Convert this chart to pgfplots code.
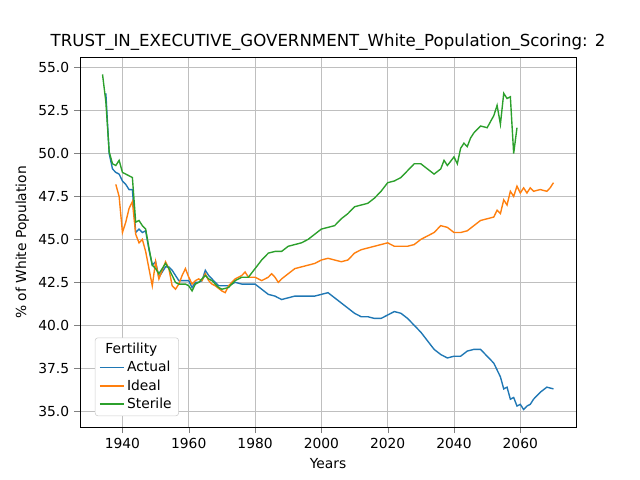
\documentclass[border=0pt]{standalone}
\usepackage{pgfplots}
\pgfplotsset{compat=1.18}
\usepackage{fontspec}
\setmainfont{DejaVu Sans}
\definecolor{c1}{HTML}{1F77B4}\definecolor{c2}{HTML}{FF7F0E}\definecolor{c3}{HTML}{2CA02C}
\begin{document}
\begin{tikzpicture}
\begin{axis}[scale only axis, width=4.96in, height=3.696in,
xmin=1927.2, xmax=2076.8, ymin=34.07, ymax=55.58,
xtick={1940,1960,...,2060}, ytick={35,37.5,...,55},
/pgf/number format/assume math mode=true,
yticklabel style={/pgf/number format/.cd,fixed,fixed zerofill,precision=1},
xticklabel style={/pgf/number format/.cd,1000 sep={}},
tick label style={font=\fontsize{10}{12}\selectfont},
label style={font=\fontsize{10}{12}\selectfont},
grid=major, grid style={gray!50},
tick align=outside, tick pos=left,
xlabel={Years}, ylabel={\% of White Population},
title={TRUST\_IN\_EXECUTIVE\_GOVERNMENT\_White\_Population\_Scoring: 2},
title style={font=\fontsize{12}{14}\selectfont, yshift=-4pt},
legend pos=south west, legend cell align=left,
legend style={font=\fontsize{10}{12}\selectfont, draw=gray!40, rounded corners=2pt},
every axis plot/.append style={line width=1pt}]
\addplot[c1, forget plot] coordinates {(1935,53.5)(1936,50.0)(1937,49.1)(1938,48.9)(1939,48.8)(1940,48.4)(1941,48.2)(1942,47.9)(1943,47.9)(1944,45.4)(1945,45.6)(1946,45.4)(1947,45.5)(1948,44.4)(1949,43.5)(1950,43.7)(1951,42.8)(1952,43.1)(1953,43.4)(1954,43.4)(1955,43.2)(1956,42.9)(1957,42.6)(1958,42.6)(1959,42.6)(1960,42.6)(1961,42.2)(1962,42.5)(1963,42.5)(1964,42.6)(1965,43.2)(1966,42.9)(1967,42.7)(1968,42.5)(1969,42.3)(1970,42.3)(1972,42.3)(1974,42.5)(1976,42.4)(1978,42.4)(1980,42.4)(1982,42.1)(1984,41.8)(1986,41.7)(1988,41.5)(1990,41.6)(1992,41.7)(1994,41.7)(1996,41.7)(1998,41.7)(2000,41.8)(2002,41.9)(2004,41.6)(2006,41.3)(2008,41.0)(2010,40.7)(2012,40.5)(2014,40.5)(2016,40.4)(2018,40.4)(2020,40.6)(2022,40.8)(2024,40.7)(2026,40.4)(2028,40.0)(2030,39.6)(2032,39.1)(2034,38.6)(2036,38.3)(2038,38.1)(2040,38.2)(2042,38.2)(2044,38.5)(2046,38.6)(2048,38.6)(2050,38.2)(2052,37.8)(2054,37.0)(2055,36.3)(2056,36.4)(2057,35.7)(2058,35.8)(2059,35.3)(2060,35.4)(2061,35.1)(2062,35.3)(2063,35.4)(2064,35.7)(2066,36.1)(2068,36.4)(2070,36.3)};
\addplot[c2, forget plot] coordinates {(1938,48.2)(1939,47.5)(1940,45.4)(1941,46.0)(1942,46.8)(1943,47.2)(1944,45.3)(1945,44.8)(1946,45.0)(1947,44.3)(1948,43.3)(1949,42.3)(1950,43.7)(1951,42.7)(1952,43.2)(1953,43.7)(1954,43.3)(1955,42.3)(1956,42.1)(1957,42.4)(1958,42.9)(1959,43.3)(1960,42.8)(1961,42.4)(1962,42.6)(1963,42.7)(1964,42.6)(1965,43.0)(1966,42.6)(1967,42.4)(1968,42.3)(1970,42.0)(1971,41.9)(1972,42.3)(1974,42.7)(1976,42.9)(1977,43.1)(1978,42.8)(1980,42.8)(1982,42.6)(1984,42.8)(1985,43.0)(1986,42.8)(1987,42.5)(1988,42.7)(1990,43.0)(1992,43.3)(1994,43.4)(1996,43.5)(1998,43.6)(2000,43.8)(2002,43.9)(2004,43.8)(2006,43.7)(2008,43.8)(2010,44.2)(2012,44.4)(2014,44.5)(2016,44.6)(2018,44.7)(2020,44.8)(2022,44.6)(2024,44.6)(2026,44.6)(2028,44.7)(2030,45.0)(2032,45.2)(2034,45.4)(2036,45.8)(2038,45.7)(2040,45.4)(2042,45.4)(2044,45.5)(2046,45.8)(2048,46.1)(2050,46.2)(2052,46.3)(2053,46.7)(2054,46.5)(2055,47.3)(2056,47.0)(2057,47.8)(2058,47.5)(2059,48.1)(2060,47.7)(2061,48.0)(2062,47.7)(2063,48.0)(2064,47.8)(2066,47.9)(2068,47.8)(2069,48.0)(2070,48.3)};
\addplot[c3, forget plot] coordinates {(1934,54.6)(1935,53.0)(1936,50.1)(1937,49.4)(1938,49.3)(1939,49.6)(1940,48.9)(1941,48.8)(1942,48.7)(1943,48.6)(1944,46.0)(1945,46.1)(1946,45.8)(1947,45.6)(1948,44.5)(1949,43.5)(1950,43.3)(1951,43.0)(1952,43.3)(1953,43.6)(1954,43.3)(1955,42.9)(1956,42.5)(1957,42.4)(1958,42.4)(1959,42.4)(1960,42.3)(1961,42.0)(1962,42.4)(1963,42.5)(1964,42.7)(1965,42.9)(1966,42.7)(1967,42.6)(1968,42.4)(1969,42.2)(1970,42.1)(1972,42.2)(1974,42.6)(1976,42.8)(1978,42.8)(1980,43.3)(1982,43.8)(1984,44.2)(1986,44.3)(1988,44.3)(1990,44.6)(1992,44.7)(1994,44.8)(1996,45.0)(1998,45.3)(2000,45.6)(2002,45.7)(2004,45.8)(2006,46.2)(2008,46.5)(2010,46.9)(2012,47.0)(2014,47.1)(2016,47.4)(2018,47.8)(2020,48.3)(2022,48.4)(2024,48.6)(2026,49.0)(2028,49.4)(2030,49.4)(2032,49.1)(2034,48.8)(2036,49.1)(2037,49.6)(2038,49.3)(2040,49.8)(2041,49.4)(2042,50.3)(2043,50.6)(2044,50.4)(2045,50.9)(2046,51.2)(2048,51.6)(2050,51.5)(2052,52.2)(2053,52.8)(2054,51.7)(2055,53.5)(2056,53.2)(2057,53.3)(2058,50.0)(2059,51.5)};
\addlegendimage{empty legend}\addlegendentry{\hspace{-0.55cm}Fertility}
\addlegendimage{c1, line width=1pt}\addlegendentry{Actual}
\addlegendimage{c2, line width=1pt}\addlegendentry{Ideal}
\addlegendimage{c3, line width=1pt}\addlegendentry{Sterile}
\end{axis}
\path (current axis.south west) ++(-0.8in,-0.528in) coordinate (bl);
\useasboundingbox (bl) rectangle ++(6.4in,4.8in);
\end{tikzpicture}
\end{document}
